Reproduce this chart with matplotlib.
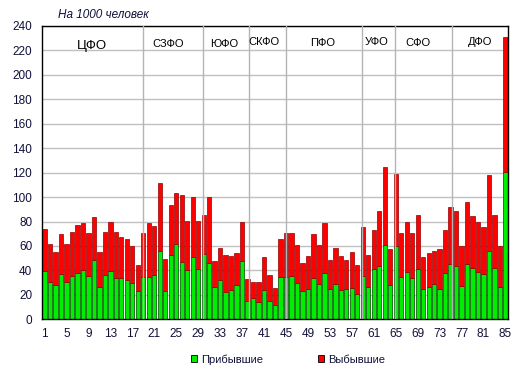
import matplotlib
matplotlib.use('Agg')
import matplotlib.pyplot as plt
from matplotlib.patches import Patch
import numpy as np

plt.rcParams['font.family'] = ['Liberation Sans', 'DejaVu Sans']

# per 1000 people, regions 1..85
arrived = [39.7, 30.7, 28.3, 37.3, 30.7, 35.6, 38.1, 40.6, 35.6, 48.7,
           26.6, 36.5, 39.7, 34.0, 34.0, 32.4, 29.9, 23.4, 34.8, 34.8,
           36.5, 56.1, 23.4, 52.8, 61.8, 47.1, 40.6, 51.2, 41.2, 53.1,
           46.3, 26.1, 32.4, 22.5, 24.2, 28.3, 47.9, 14.9, 17.6, 14.4,
           24.2, 15.2, 11.9, 34.8, 34.8, 35.6, 29.9, 23.4, 25.0, 34.0,
           29.1, 38.1, 25.0, 29.1, 24.2, 25.0, 25.8, 20.9, 35.6, 26.6,
           41.4, 43.8, 61.0, 28.3, 60.2, 34.8, 38.9, 34.0, 41.4, 25.0,
           26.6, 29.1, 24.8, 38.0, 45.6, 43.7, 27.3, 45.3, 42.0, 38.8,
           37.1, 56.0, 42.0, 26.5, 120.7]
departed = [33.9, 30.6, 26.5, 32.2, 30.6, 35.6, 38.8, 37.9, 34.7, 34.7,
            28.2, 34.7, 39.6, 37.2, 33.1, 33.0, 29.8, 20.7, 35.5, 43.7,
            39.6, 55.1, 25.6, 40.4, 41.2, 54.3, 39.6, 48.6, 39.6, 32.2,
            53.7, 21.3, 25.6, 29.8, 27.3, 25.7, 31.7, 17.8, 12.6, 15.8,
            26.5, 20.8, 13.4, 30.6, 35.5, 34.7, 30.6, 22.4, 26.5, 35.5,
            31.4, 40.7, 23.2, 28.9, 27.3, 23.2, 29.0, 23.2, 39.6, 25.7,
            31.4, 44.5, 63.3, 28.9, 58.4, 35.5, 40.7, 36.3, 43.6, 25.7,
            27.4, 27.0, 32.3, 34.9, 45.9, 44.5, 33.0, 50.3, 42.1, 41.2,
            38.0, 61.7, 43.7, 33.8, 110.0]
regions = np.arange(1, 86)
districts = ['ЦФО', 'СЗФО', 'ЮФО', 'СКФО', 'ПФО', 'УФО', 'СФО', 'ДФО']

# where the labels and separators sit (x in region units)
district_x = [9.6, 23.5, 33.7, 41.0, 51.6, 61.6, 69.1, 80.3]
district_y = [223.9, 225.2, 225.0, 226.6, 226.3, 227.1, 225.8, 227.1]
dividers = [19.0, 29.8, 38.3, 45.0, 58.9, 64.8, 75.2]

txt_color = '#101038'

fig = plt.figure(figsize=(5.2, 3.76), dpi=100)
ax = fig.add_axes([42 / 520, 1 - 319.25 / 376, 466 / 520, 293.25 / 376])

ax.bar(regions, arrived, width=0.78, color='#00ee00', edgecolor='#004000',
       linewidth=0.5, zorder=2, label='Прибывшие')
ax.bar(regions, departed, width=0.78, bottom=arrived, color='#ff0000',
       edgecolor='#900000', linewidth=0.5, zorder=2, label='Выбывшие')

for d in dividers:
    ax.axvline(d, color='#b4b4b4', linewidth=1, zorder=3)

for name, x, y in zip(districts, district_x, district_y):
    fs = 9.5 if name == 'ЦФО' else 8
    ax.text(x, y, name, ha='center', va='center', fontsize=fs, color='black', zorder=4)

ax.set_xlim(0.54, 85.46)
ax.set_ylim(0, 240)
ax.set_yticks(np.arange(0, 241, 20))
ax.set_xticks(np.arange(1, 86, 4))
ax.yaxis.grid(True, color='#c0c0c0', linewidth=1)
ax.set_axisbelow(True)
ax.tick_params(length=0, labelsize=8.5, colors=txt_color, pad=7)
ax.tick_params(axis='x', pad=6)
for s in ax.spines.values():
    s.set_color('black')
    s.set_linewidth(1)

fig.text(58 / 520, 1 - 15 / 376, 'На 1000 человек', style='italic',
         fontsize=8.5, ha='left', va='center', color=txt_color)

handles = [Patch(facecolor='#00ee00', edgecolor='black', linewidth=0.6, label='Прибывшие'),
           Patch(facecolor='#ff0000', edgecolor='black', linewidth=0.6, label='Выбывшие')]
fig.legend(handles=handles, loc='center', bbox_to_anchor=(288 / 520, 1 - 359.3 / 376),
           ncol=2, frameon=False, fontsize=8, handlelength=0.55, handleheight=0.55,
           handletextpad=0.3, columnspacing=5, labelcolor=txt_color)

fig.savefig('out.png', dpi=100)
